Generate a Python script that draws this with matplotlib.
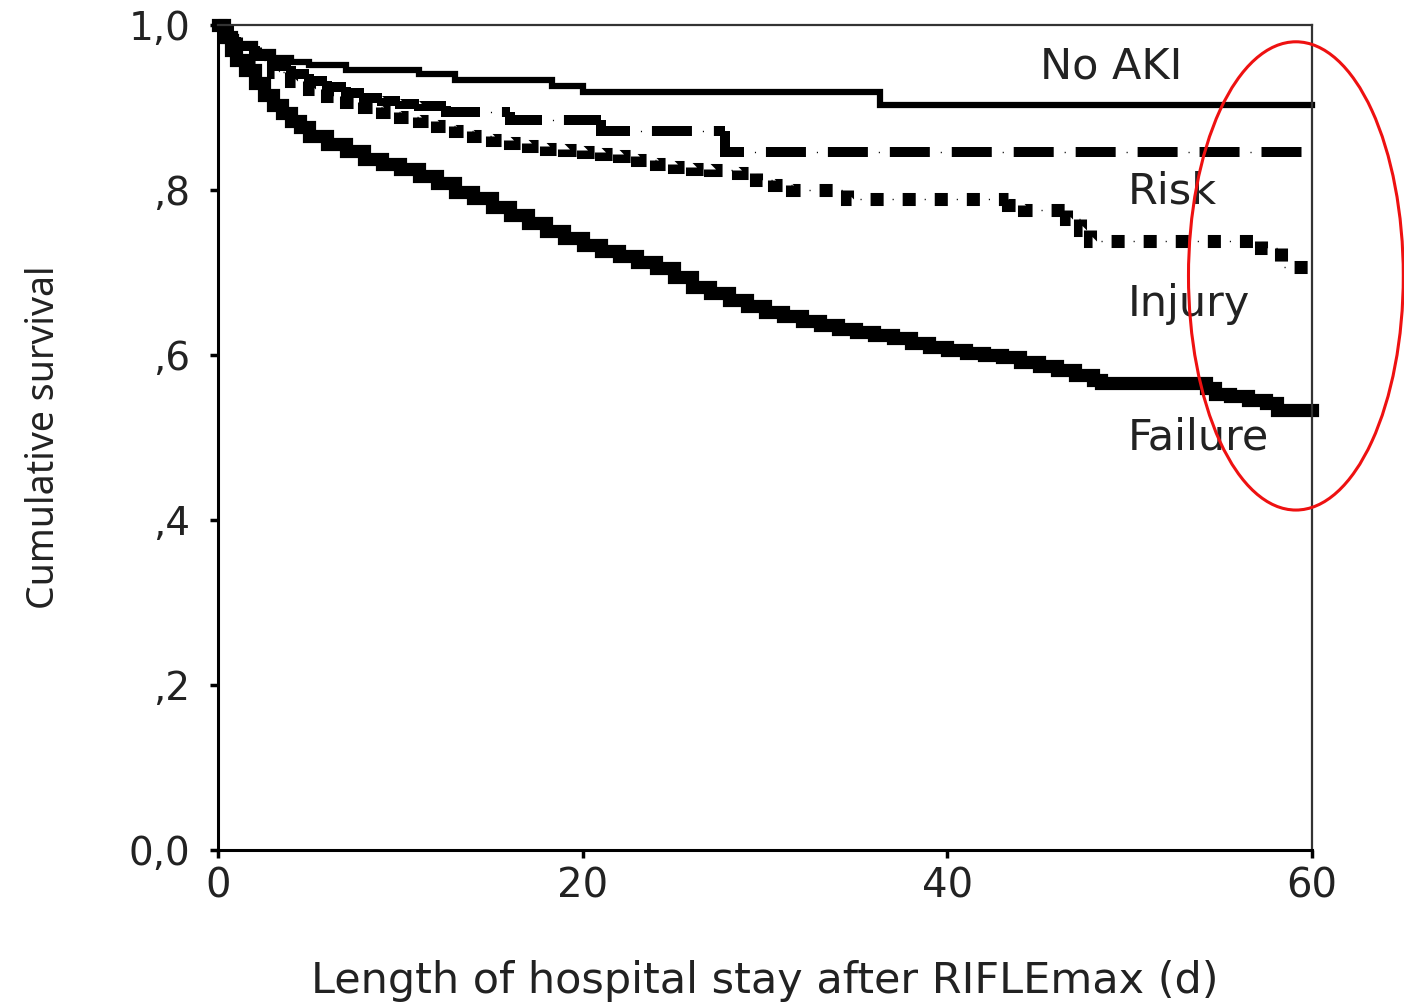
import matplotlib
matplotlib.use('Agg')
import matplotlib.pyplot as plt
from matplotlib.patches import Ellipse
from matplotlib.collections import LineCollection

plt.rcParams['font.family'] = ['DejaVu Sans']
plt.rcParams['lines.scale_dashes'] = False

# Kaplan-Meier step curves (days, cumulative survival)
no_aki_days = [0, 0.5, 1, 2, 3, 4, 5, 7, 11, 13, 18.3, 20, 36.3, 60]
no_aki_surv = [1.0, 0.985, 0.977, 0.967, 0.960, 0.955, 0.951, 0.945, 0.940, 0.933, 0.926, 0.919, 0.903, 0.903]

risk_days = [0, 0.5, 1, 2, 3, 4, 5, 6, 7, 8, 9, 10, 11, 12.5, 16, 21, 27.8, 60]
risk_surv = [1.0, 0.985, 0.975, 0.962, 0.950, 0.940, 0.932, 0.925, 0.918, 0.912, 0.908, 0.904, 0.902,
             0.895, 0.885, 0.872, 0.846, 0.846]

injury_days = [0, 0.5, 1, 2, 3, 4, 5, 6, 7, 8, 9, 10, 11, 12, 13, 14, 15, 16, 17, 18, 19, 20, 21, 22,
               23, 24, 25, 26, 27, 28.5, 29.5, 30.5, 31.5, 34.5, 43.3, 44.2, 46.5, 47.3, 47.8, 57.2, 58.3, 60]
injury_surv = [1.0, 0.985, 0.973, 0.957, 0.943, 0.932, 0.922, 0.914, 0.907, 0.900, 0.894, 0.889, 0.884,
               0.878, 0.872, 0.866, 0.861, 0.857, 0.853, 0.850, 0.848, 0.846, 0.844, 0.841, 0.836, 0.831,
               0.828, 0.826, 0.824, 0.820, 0.812, 0.806, 0.800, 0.789, 0.782, 0.776, 0.765, 0.752, 0.738,
               0.730, 0.707, 0.707]

failure_days = [0, 0.3, 0.7, 1, 1.5, 2, 2.5, 3, 3.5, 4, 4.5, 5, 6, 7, 8, 9, 10, 11, 12, 13, 14, 15, 16,
                17, 18, 19, 20, 21, 22, 23, 24, 25, 26, 27, 28, 29, 30, 31, 32, 33, 34, 35, 36, 37, 38,
                39, 40, 41, 42, 43, 44, 45, 46, 47, 48, 48.4, 54.2, 54.7, 55.5, 56.5, 57.5, 58.1, 60]
failure_surv = [1.0, 0.985, 0.970, 0.958, 0.945, 0.930, 0.915, 0.903, 0.893, 0.884, 0.876, 0.866, 0.856,
                0.847, 0.838, 0.831, 0.825, 0.817, 0.808, 0.797, 0.790, 0.779, 0.770, 0.760, 0.750, 0.742,
                0.733, 0.726, 0.720, 0.713, 0.705, 0.694, 0.683, 0.675, 0.667, 0.659, 0.652, 0.647, 0.641,
                0.636, 0.632, 0.628, 0.624, 0.620, 0.615, 0.610, 0.606, 0.603, 0.600, 0.597, 0.592, 0.587,
                0.582, 0.576, 0.570, 0.566, 0.560, 0.553, 0.550, 0.546, 0.542, 0.533, 0.533]

group_labels = ['No AKI', 'Risk', 'Injury', 'Failure']
label_x = [45.1, 49.9, 49.9, 49.9]
label_y = [0.935, 0.784, 0.647, 0.485]

x_ticks = [0, 20, 40, 60]
y_ticks = [0.0, 0.2, 0.4, 0.6, 0.8, 1.0]
y_tick_labels = ['0,0', ',2', ',4', ',6', ',8', '1,0']


def step_pieces(days, surv):
    # one polyline per step (riser + following flat run), so the dash
    # pattern restarts at every event like the SPSS output does
    pieces = []
    for i in range(len(days) - 1):
        prev = surv[i - 1] if i > 0 else surv[0]
        pieces.append([(days[i], prev), (days[i], surv[i]), (days[i + 1], surv[i])])
    return pieces


fig = plt.figure(figsize=(14.04, 10.07), dpi=100)
ax = fig.add_axes([0.1553, 0.1559, 0.7792, 0.8193])

# Failure: heavy solid
ax.step(failure_days, failure_surv, where='post', color='black', lw=9.5,
        solid_joinstyle='miter', clip_on=False)

# Injury: square dots with a tiny dot in between
inj = step_pieces(injury_days, injury_surv)
ax.add_collection(LineCollection(inj, colors='black', linewidths=9.4, linestyles=[(0, (9.4, 13.7))],
                                 capstyle='butt', joinstyle='miter', clip_on=False))
ax.add_collection(LineCollection(inj, colors='black', linewidths=1.0, linestyles=[(7.25, (0.8, 22.3))],
                                 clip_on=False))

# Risk: long dashes with a tiny dot in between
rsk = step_pieces(risk_days, risk_surv)
ax.add_collection(LineCollection(rsk, colors='black', linewidths=7.2, linestyles=[(0, (28.8, 15.8))],
                                 capstyle='butt', joinstyle='miter', clip_on=False))
ax.add_collection(LineCollection(rsk, colors='black', linewidths=1.0, linestyles=[(8.3, (0.8, 43.8))],
                                 clip_on=False))

# No AKI: solid
ax.step(no_aki_days, no_aki_surv, where='post', color='black', lw=4.5,
        solid_joinstyle='miter', clip_on=False)

for name, lx, ly in zip(group_labels, label_x, label_y):
    ax.text(lx, ly, name, fontsize=31, va='baseline', ha='left', color='#222222')

ax.set_xlim(0, 60)
ax.set_ylim(0, 1.0)
ax.set_xticks(x_ticks)
ax.set_xticklabels([str(t) for t in x_ticks])
ax.set_yticks(y_ticks)
ax.set_yticklabels(y_tick_labels)
ax.tick_params(axis='x', direction='out', length=6, width=2.5, labelsize=29, pad=6, colors='black')
ax.tick_params(axis='y', direction='out', length=6, width=2.5, labelsize=28, pad=14, colors='black')
for t in ax.get_xticklabels() + ax.get_yticklabels():
    t.set_color('#222222')

for side in ['left', 'bottom']:
    ax.spines[side].set_linewidth(2.2)
for side in ['top', 'right']:
    ax.spines[side].set_linewidth(1.6)
    ax.spines[side].set_color('#333333')

ax.set_xlabel('Length of hospital stay after RIFLEmax (d)', fontsize=31, color='#222222')
ax.xaxis.set_label_coords(0.5, -0.133)
ax.set_ylabel('Cumulative survival', fontsize=27, color='#222222',
              family=['Liberation Sans Narrow', 'Noto Sans'], fontstretch='extra-condensed')
ax.yaxis.set_label_coords(-0.142, 0.5)

# red highlight ellipse around the curve ends
ell = Ellipse((0.923, 0.726), width=0.153, height=0.465, transform=fig.transFigure,
              fill=False, edgecolor='#ee1111', lw=2.2, clip_on=False)
fig.patches.append(ell)

fig.savefig('out.png', dpi=100)
